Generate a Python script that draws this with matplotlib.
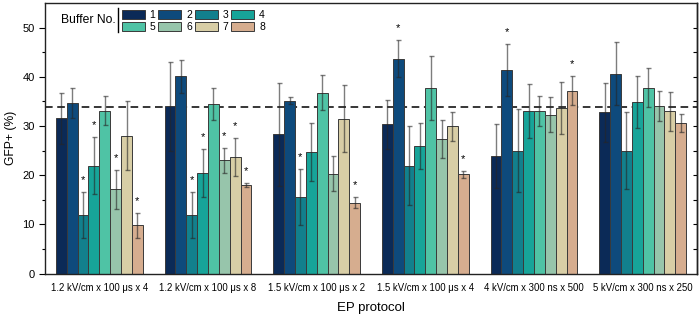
import numpy as np
import matplotlib
matplotlib.use('Agg')
import matplotlib.pyplot as plt
from matplotlib.patches import Patch
from matplotlib.lines import Line2D

plt.rcParams['font.family'] = ['Liberation Sans', 'DejaVu Sans']

# Data
protocols = ['1.2 kV/cm x 100 \u03bcs x 4', '1.2 kV/cm x 100 \u03bcs x 8',
             '1.5 kV/cm x 100 \u03bcs x 2', '1.5 kV/cm x 100 \u03bcs x 4',
             '4 kV/cm x 300 ns x 500', '5 kV/cm x 300 ns x 250']
buffers = ['1', '2', '3', '4', '5', '6', '7', '8']

# rows = buffers 1..8, cols = protocols
gfp_mean = np.array([
    [31.6, 34.0, 28.3, 30.3, 23.8, 32.8],
    [34.7, 40.1, 35.1, 43.7, 41.4, 40.6],
    [11.9, 11.9, 15.6, 21.9, 25.0, 25.0],
    [21.9, 20.5, 24.8, 25.9, 33.0, 34.8],
    [33.1, 34.5, 36.8, 37.7, 33.0, 37.8],
    [17.1, 23.0, 20.3, 27.3, 32.3, 34.1],
    [28.0, 23.7, 31.5, 29.9, 33.6, 33.0],
    [9.8, 18.0, 14.4, 20.2, 37.2, 30.6],
])
gfp_err = np.array([
    [5.2, 9.0, 10.5, 4.9, 6.5, 6.0],
    [3.1, 3.3, 0.7, 3.7, 5.3, 6.4],
    [4.7, 4.6, 5.7, 8.0, 8.5, 7.8],
    [5.8, 4.9, 5.9, 4.7, 5.5, 5.3],
    [2.9, 3.2, 3.6, 6.5, 3.1, 4.0],
    [4.0, 2.5, 3.5, 3.9, 3.6, 3.1],
    [7.0, 3.9, 6.8, 2.9, 5.3, 4.0],
    [2.5, 0.5, 1.1, 0.7, 2.9, 1.9],
])
significant = np.array([
    [0, 0, 0, 0, 0, 0],
    [0, 0, 0, 1, 1, 0],
    [1, 1, 1, 0, 0, 0],
    [1, 1, 0, 0, 0, 0],
    [0, 0, 0, 0, 0, 0],
    [1, 1, 0, 0, 0, 0],
    [0, 1, 0, 0, 0, 0],
    [1, 1, 1, 1, 1, 0],
], dtype=bool)
control_level = 33.8

colors = ['#0b2a57', '#0e4a7c', '#12808d', '#17a499', '#4fc3a5',
          '#97c5ab', '#d8cea6', '#d6ad8f']

fig = plt.figure(figsize=(6.99, 3.16), dpi=100)
ax = fig.add_axes([45 / 699, 42.5 / 316, 652 / 699, 270.5 / 316])

x = np.arange(len(protocols))
w = 0.1
for j in range(len(buffers)):
    pos = x + (j - 3.5) * w
    ax.bar(pos, gfp_mean[j], width=w, color=colors[j], edgecolor='#3a3a3a',
           linewidth=0.7, zorder=2)
    ax.errorbar(pos, gfp_mean[j], yerr=gfp_err[j], fmt='none',
                ecolor=(0.15, 0.15, 0.15, 0.6), elinewidth=1.0, capsize=1.8,
                capthick=1.0, zorder=3)
    for k in range(len(protocols)):
        if significant[j, k]:
            ax.text(pos[k], gfp_mean[j, k] + gfp_err[j, k] + 2.4, '*',
                    ha='center', va='center', fontsize=8, zorder=4)

ax.axhline(control_level, color='black', linestyle=(0, (5, 3)), linewidth=1.1,
           zorder=1)

ax.set_xlim(-0.5, 5.5)
ax.set_ylim(0, 55)
ax.set_xticks(x)
ax.set_xticklabels(protocols, fontsize=6.9)
ax.tick_params(axis='x', length=0, pad=7)
ax.set_yticks([0, 10, 20, 30, 40, 50])
ax.set_yticks(np.arange(5, 55, 10), minor=True)
ax.tick_params(axis='y', which='major', labelsize=8, length=4, width=0.8,
               direction='out', right=False)
ax.tick_params(axis='y', which='minor', length=2.5, width=0.8, direction='out')

# mirrored inward ticks on the right
ay = ax.secondary_yaxis('right')
ay.set_yticks(np.arange(5, 55, 5))
ay.tick_params(direction='in', length=3, width=0.8, labelright=False)
ay.spines['right'].set_linewidth(1.0)

for s in ax.spines.values():
    s.set_linewidth(1.0)
    s.set_color('#222222')

ax.set_ylabel('GFP+ (%)', fontsize=8.7, labelpad=4)
ax.set_xlabel('EP protocol', fontsize=9.5, labelpad=6)

# legend, filled column by column so rows read 1-4 and 5-8
order = [0, 4, 1, 5, 2, 6, 3, 7]
handles = [Patch(facecolor=colors[i], edgecolor='#3a3a3a', linewidth=0.7)
           for i in order]
labels = [buffers[i] for i in order]
ax.legend(handles, labels, ncol=4, loc='upper left',
          bbox_to_anchor=(0.105, 1.005), frameon=False, fontsize=7.5,
          handlelength=2.2, handleheight=0.9, handletextpad=0.45,
          columnspacing=0.3, labelspacing=0.2, borderpad=0.3)
ax.text(0.108, 0.937, 'Buffer No.', transform=ax.transAxes, ha='right',
        va='center', fontsize=8.7)
ax.add_line(Line2D([0.112, 0.112], [0.982, 0.893], transform=ax.transAxes,
                   color='black', linewidth=1.0))

fig.savefig('out.png', dpi=100)
